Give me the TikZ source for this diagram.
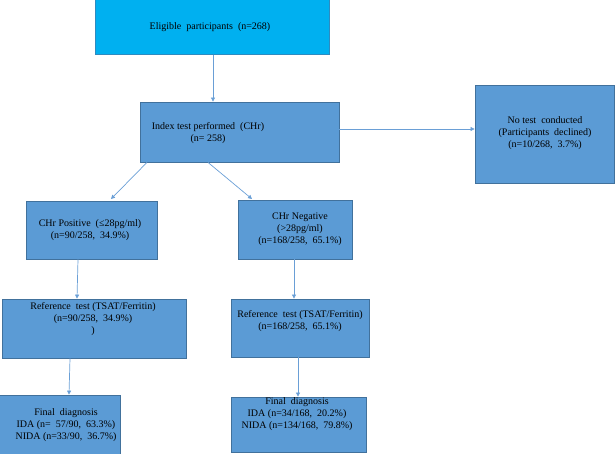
\documentclass[tikz,border=0pt]{standalone}
\usepackage{fontspec}
\setmainfont{Liberation Serif}
\usetikzlibrary{arrows.meta}
\definecolor{cyanbox}{HTML}{00B0F0}
\definecolor{cyanline}{HTML}{2E8BC0}
\definecolor{bluebox}{HTML}{5B9BD5}
\definecolor{blueline}{HTML}{41719C}
\definecolor{arrowcol}{HTML}{6A9FD6}
\tikzset{
  box/.style={draw=blueline, fill=bluebox, line width=0.8pt, inner sep=0pt, anchor=center},
  topbox/.style={box, draw=cyanline, fill=cyanbox},
  txt/.style={align=center, inner sep=0pt, font=\fontsize{10}{12}\selectfont, text=black},
  arr/.style={draw=arrowcol, line width=0.7pt, -{Triangle[length=4pt,width=4pt]}}
}
\begin{document}
\begin{tikzpicture}[x=1pt,y=-1pt]
\path[use as bounding box] (0,0) rectangle (615,454);
% boxes
\node[topbox, minimum width=234pt, minimum height=55pt] (E) at (212,27) {};
\node[box, minimum width=199pt, minimum height=60pt] (I) at (239.5,132) {};
\node[box, minimum width=139pt, minimum height=98pt] (N) at (544.5,134) {};
\node[box, minimum width=131pt, minimum height=58pt] (P) at (91.5,230) {};
\node[box, minimum width=114pt, minimum height=59pt] (Q) at (295,229.5) {};
\node[box, minimum width=184pt, minimum height=59pt] (RL) at (94,328.5) {};
\node[box, minimum width=138pt, minimum height=58pt] (RR) at (300,328) {};
\node[box, minimum width=121pt, minimum height=59pt] (FL) at (59.5,424.5) {};
\node[box, minimum width=135pt, minimum height=55pt] (FR) at (298.5,424.5) {};
% texts
\node[txt] (tE) at (210,27) {Eligible~ participants~ (n=268)};
\node[txt] (tI) at (208,133) {Index test performed~ (CHr)\\(n= 258)};
\node[txt] (tN) at (545,133) {No test~ conducted\\(Participants~ declined)\\(n=10/268,~ 3.7\%)};
\node[txt] (tP) at (90,230) {CHr Positive~ (≤28pg/ml)\\(n=90/258,~ 34.9\%)};
\node[txt] (tQ) at (300,229) {CHr Negative\\(>28pg/ml)\\(n=168/258,~ 65.1\%)};
\node[txt] (tRL) at (93,319) {Reference~ test (TSAT/Ferritin)\\(n=90/258,~ 34.9\%)\\)};
\node[txt] (tRR) at (300,321) {Reference~ test (TSAT/Ferritin)\\(n=168/258,~ 65.1\%)};
\node[txt] (tFL) at (66,425) {Final~ diagnosis\\IDA (n=~ 57/90,~ 63.3\%)\\NIDA (n=33/90,~ 36.7\%)};
\node[txt] (tFR) at (297,414) {Final~ diagnosis\\IDA (n=34/168,~ 20.2\%)\\NIDA (n=134/168,~ 79.8\%)};
% connectors
\draw[arr] (E.south -| 213,0) -- (I.north -| 213,0);
\draw[arr] (I.east |- 0,129) -- (N.west |- 0,129);
\draw[arr] (I.south -| 147,0) -- (111,199);
\draw[arr] (I.south -| 208,0) -- (252,199);
\draw[arr] (P.south -| 78,0) -- (RL.north -| 77,0);
\draw[arr] (Q.south -| 294,0) -- (RR.north -| 294,0);
\draw[arr] (RL.south -| 70,0) -- (FL.north -| 69,0);
\draw[arr] (RR.south -| 298,0) -- (FR.north -| 298,0);
\end{tikzpicture}
\end{document}
